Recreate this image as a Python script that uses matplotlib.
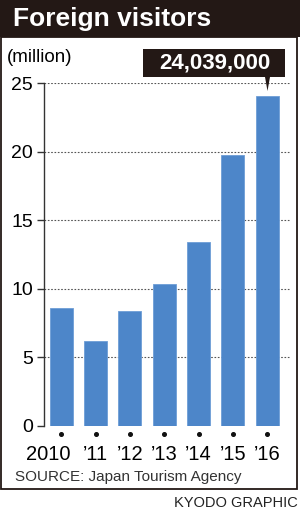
import matplotlib.pyplot as plt
from matplotlib.patches import Rectangle, Polygon
from matplotlib.transforms import ScaledTranslation

# Data (million visitors)
years = ["2010", "\u201911", "\u201912", "\u201913", "\u201914", "\u201915", "\u201916"]
visitors = [8.61, 6.22, 8.36, 10.36, 13.41, 19.74, 24.04]
yticks = [0, 5, 10, 15, 20, 25]
callout = "24,039,000"

W, H = 300, 513
fig = plt.figure(figsize=(W / 100, H / 100), dpi=100)
plt.rcParams['font.family'] = ['Liberation Sans', 'DejaVu Sans']

def fx(px):
    return px / W

def fy(py):
    return 1 - py / H

# title band and frame
fig.patches.append(Rectangle((0, fy(37)), 1, 37 / H, transform=fig.transFigure,
                             facecolor='#231815', edgecolor='none'))
fig.patches.append(Rectangle((fx(1), fy(489)), fx(296), (489 - 37) / H,
                             transform=fig.transFigure, facecolor='none',
                             edgecolor='#231815', linewidth=1.3))
fig.text(fx(13), fy(19), "Foreign visitors", color='white', fontsize=19,
         fontweight='bold', va='center', ha='left')

ax = fig.add_axes([fx(44), fy(426), fx(289.6 - 44), (426 - 83) / H])
x = list(range(len(years)))
ax.bar(x, visitors, width=0.67, color='#4d86c9', edgecolor='#6d9dd6',
       linewidth=0.6, zorder=3)
ax.set_xlim(-0.5, 6.65)
ax.set_ylim(0, 25)
for v in yticks[1:]:
    ax.axhline(v, color='#555555', linestyle=(0, (1.5, 1.5)), linewidth=0.8, zorder=1)

for s in ['top', 'right', 'bottom']:
    ax.spines[s].set_visible(False)
ax.spines['left'].set_color('#333333')
ax.spines['left'].set_linewidth(1.0)
ax.set_yticks(yticks)
ax.set_yticklabels([str(t) for t in yticks], fontsize=14)
ax.tick_params(axis='y', length=5, width=1.0, color='#333333', pad=3)
ax.set_xticks(x)
ax.set_xticklabels(years, fontsize=14.5)
ax.tick_params(axis='x', length=0, pad=14)
# "2010" sits a little to the left of its bar
lbl = ax.get_xticklabels()[0]
lbl.set_transform(lbl.get_transform() + ScaledTranslation(-9 / 72, 0, fig.dpi_scale_trans))

# dots below bars
ax.plot(x, [-0.55] * len(x), 'o', color='#111111', markersize=2.6, clip_on=False)

fig.text(fx(7), fy(58), "(million)", fontsize=13.5, va='center', ha='left')

# callout box
fig.patches.append(Rectangle((fx(143), fy(77)), fx(285 - 143), (77 - 49) / H,
                             transform=fig.transFigure, facecolor='#231815',
                             edgecolor='none'))
fig.patches.append(Polygon([(fx(265), fy(77)), (fx(270), fy(77)), (fx(267.5), fy(91))],
                           closed=True, transform=fig.transFigure,
                           facecolor='#231815', edgecolor='none'))
fig.text(fx(215), fy(63), callout, color='white', fontsize=16, fontweight='bold',
         ha='center', va='center')

fig.text(fx(15), fy(477), "SOURCE: Japan Tourism Agency", fontsize=11,
         color='#333333', ha='left', va='center')
fig.text(fx(298), fy(503), "KYODO GRAPHIC", fontsize=10.5, color='#222222',
         ha='right', va='center')

fig.savefig("out.png", dpi=100, facecolor='white')
